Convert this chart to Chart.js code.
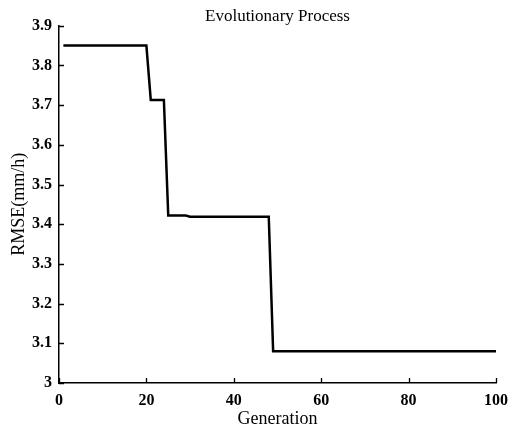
<!DOCTYPE html>
<html><head><meta charset="utf-8">
<script src="https://cdn.jsdelivr.net/npm/chart.js@4"></script>
<style>html,body{margin:0;padding:0;background:#fff;overflow:hidden}canvas{display:block}</style>
</head><body>
<canvas id="c" width="508" height="432"></canvas>
<script>
const generations = [1,2,3,4,5,6,7,8,9,10,11,12,13,14,15,16,17,18,19,20,
  21,22,23,24,25,26,27,28,29,30,31,32,33,34,35,36,37,38,39,40,
  41,42,43,44,45,46,47,48,49,50,51,52,53,54,55,56,57,58,59,60,
  61,62,63,64,65,66,67,68,69,70,71,72,73,74,75,76,77,78,79,80,
  81,82,83,84,85,86,87,88,89,90,91,92,93,94,95,96,97,98,99,100];
const rmse = [3.85,3.85,3.85,3.85,3.85,3.85,3.85,3.85,3.85,3.85,
  3.85,3.85,3.85,3.85,3.85,3.85,3.85,3.85,3.85,3.85,
  3.713,3.713,3.713,3.713,3.422,3.422,3.422,3.422,3.422,3.419,
  3.419,3.419,3.419,3.419,3.419,3.419,3.419,3.419,3.419,3.419,
  3.419,3.419,3.419,3.419,3.419,3.419,3.419,3.419,3.08,3.08,
  3.08,3.08,3.08,3.08,3.08,3.08,3.08,3.08,3.08,3.08,
  3.08,3.08,3.08,3.08,3.08,3.08,3.08,3.08,3.08,3.08,
  3.08,3.08,3.08,3.08,3.08,3.08,3.08,3.08,3.08,3.08,
  3.08,3.08,3.08,3.08,3.08,3.08,3.08,3.08,3.08,3.08,
  3.08,3.08,3.08,3.08,3.08,3.08,3.08,3.08,3.08,3.08];
const xTickValues = [0,20,40,60,80,100];
const xTickLabels = ['0','20','40','60','80','100'];
const yTickValues = [3,3.1,3.2,3.3,3.4,3.5,3.6,3.7,3.8,3.9];
const yTickLabels = ['3','3.1','3.2','3.3','3.4','3.5','3.6','3.7','3.8','3.9'];
const chartTitle = 'Evolutionary Process';
const xAxisTitle = 'Generation';
const yAxisTitle = 'RMSE(mm/h)';

const SERIF = '"Liberation Serif", "Times New Roman", serif';

const inwardTicks = {
  id: 'inwardTicks',
  afterDraw(chart) {
    const {ctx, chartArea: a, scales: {x, y}} = chart;
    ctx.save();
    ctx.strokeStyle = '#000';
    ctx.lineWidth = 1.3;
    ctx.beginPath();
    xTickValues.forEach(v => {
      const px = Math.round(x.getPixelForValue(v)) + 0.5;
      ctx.moveTo(px, a.bottom);
      ctx.lineTo(px, a.bottom - 5);
    });
    yTickValues.forEach(v => {
      const py = Math.round(y.getPixelForValue(v)) + 0.5;
      ctx.moveTo(a.left, py);
      ctx.lineTo(a.left + 5, py);
    });
    ctx.stroke();
    ctx.restore();
  }
};

new Chart(document.getElementById('c'), {
  type: 'line',
  data: {
    datasets: [{
      data: generations.map((g, i) => ({x: g, y: rmse[i]})),
      borderColor: '#000',
      borderWidth: 2.5,
      pointRadius: 0,
      tension: 0,
      fill: false
    }]
  },
  options: {
    responsive: false,
    animation: false,
    devicePixelRatio: 1,
    layout: {padding: {top: 0, right: 0, bottom: 0, left: 0}},
    plugins: {
      legend: {display: false},
      tooltip: {enabled: false},
      title: {
        display: true,
        text: chartTitle,
        fullSize: false,
        color: '#000',
        font: {family: SERIF, size: 17, weight: 'normal', lineHeight: 1.1},
        padding: {top: 7, bottom: 0}
      }
    },
    scales: {
      x: {
        type: 'linear',
        min: 0, max: 100,
        afterBuildTicks: s => { s.ticks = xTickValues.map(v => ({value: v})); },
        afterFit: s => { s.height = 49; s.paddingRight = 12; s.paddingLeft = 0; },
        grid: {display: false, drawTicks: false},
        border: {display: true, color: '#000', width: 1.5},
        ticks: {
          color: '#000',
          padding: 8,
          maxRotation: 0,
          font: {family: SERIF, size: 16, weight: 'bold'},
          callback: v => xTickLabels[xTickValues.indexOf(v)]
        },
        title: {
          display: true,
          text: xAxisTitle,
          color: '#000',
          font: {family: SERIF, size: 18, weight: 'normal', lineHeight: 1.2},
          padding: {top: 0, bottom: 2}
        }
      },
      y: {
        type: 'linear',
        min: 3, max: 3.9,
        afterBuildTicks: s => { s.ticks = yTickValues.map(v => ({value: v})); },
        afterFit: s => { s.width = 59; },
        grid: {display: false, drawTicks: false},
        border: {display: true, color: '#000', width: 1.5},
        ticks: {
          color: '#000',
          padding: 7,
          font: {family: SERIF, size: 16, weight: 'bold'},
          callback: v => yTickLabels[yTickValues.indexOf(v)]
        },
        title: {
          display: true,
          text: yAxisTitle,
          color: '#000',
          font: {family: SERIF, size: 18, weight: 'normal', lineHeight: 1.2},
          padding: {top: 8, bottom: 0}
        }
      }
    }
  },
  plugins: [inwardTicks]
});
</script>
</body></html>
